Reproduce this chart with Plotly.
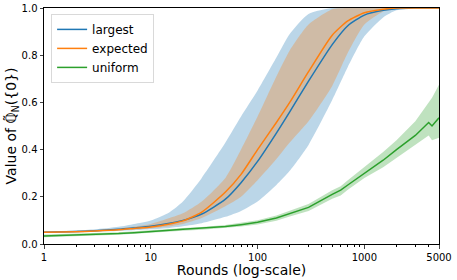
import plotly.graph_objects as go

# ---- data ----
rounds = [1, 2, 3, 5, 7, 10, 15, 20, 30, 50, 70, 100, 150, 200, 300, 500, 700, 1000, 1500, 2000, 3000, 5000]

largest_mid = [0.050, 0.053, 0.056, 0.062, 0.068, 0.075, 0.088, 0.100, 0.127, 0.19, 0.26, 0.35, 0.47, 0.56, 0.69, 0.845, 0.925, 0.97, 0.99, 0.997, 1.0, 1.0]
largest_hi = [0.053, 0.057, 0.062, 0.073, 0.085, 0.100, 0.135, 0.18, 0.28, 0.43, 0.54, 0.65, 0.79, 0.89, 0.975, 1.0, 1.0, 1.0, 1.0, 1.0, 1.0, 1.0]
largest_lo = [0.047, 0.050, 0.052, 0.055, 0.058, 0.062, 0.068, 0.075, 0.088, 0.115, 0.14, 0.18, 0.25, 0.31, 0.42, 0.61, 0.75, 0.88, 0.96, 0.99, 1.0, 1.0]

expected_mid = [0.050, 0.052, 0.055, 0.060, 0.066, 0.072, 0.085, 0.098, 0.135, 0.22, 0.295, 0.40, 0.515, 0.60, 0.73, 0.885, 0.945, 0.98, 0.995, 1.0, 1.0, 1.0]
expected_hi = [0.052, 0.055, 0.059, 0.066, 0.074, 0.085, 0.11, 0.13, 0.18, 0.28, 0.40, 0.54, 0.71, 0.82, 0.93, 0.995, 1.0, 1.0, 1.0, 1.0, 1.0, 1.0]
expected_lo = [0.048, 0.051, 0.053, 0.058, 0.062, 0.066, 0.075, 0.085, 0.11, 0.16, 0.20, 0.27, 0.36, 0.43, 0.52, 0.67, 0.81, 0.93, 0.985, 1.0, 1.0, 1.0]

uniform_rounds = [1, 2, 3, 5, 7, 10, 15, 20, 30, 50, 70, 100, 150, 200, 300, 500, 600, 700, 1000, 1500, 2000, 3000, 4000, 4300, 5000]
uniform_mid = [0.034, 0.037, 0.040, 0.044, 0.048, 0.054, 0.058, 0.062, 0.066, 0.074, 0.082, 0.092, 0.11, 0.128, 0.155, 0.21, 0.228, 0.25, 0.30, 0.355, 0.40, 0.46, 0.515, 0.50, 0.535]
uniform_hi = [0.040, 0.043, 0.046, 0.050, 0.054, 0.060, 0.064, 0.068, 0.072, 0.081, 0.090, 0.101, 0.121, 0.140, 0.170, 0.228, 0.245, 0.27, 0.325, 0.39, 0.44, 0.52, 0.60, 0.62, 0.675]
uniform_lo = [0.029, 0.032, 0.035, 0.039, 0.043, 0.048, 0.052, 0.056, 0.060, 0.067, 0.074, 0.083, 0.099, 0.116, 0.140, 0.192, 0.205, 0.23, 0.28, 0.325, 0.365, 0.42, 0.46, 0.44, 0.45]

x_ticks = [1, 10, 100, 1000, 5000]
x_tick_text = ["1", "10", "100", "1000", "5000"]
y_ticks = [0.0, 0.2, 0.4, 0.6, 0.8, 1.0]

colors = {"largest": "#1f77b4", "expected": "#ff7f0e", "uniform": "#2ca02c"}
bands = {"largest": "rgba(31,119,180,0.3)", "expected": "rgba(255,127,14,0.3)", "uniform": "rgba(44,160,44,0.3)"}

fig = go.Figure()

def add_band(x, lo, hi, name, shape):
    fig.add_trace(go.Scatter(x=x, y=hi, mode="lines", line=dict(width=0, shape=shape, smoothing=0.6),
                             showlegend=False, hoverinfo="skip"))
    fig.add_trace(go.Scatter(x=x, y=lo, mode="lines", line=dict(width=0, shape=shape, smoothing=0.6),
                             fill="tonexty", fillcolor=bands[name], showlegend=False, hoverinfo="skip"))

add_band(rounds, largest_lo, largest_hi, "largest", "spline")
add_band(rounds, expected_lo, expected_hi, "expected", "spline")
add_band(uniform_rounds, uniform_lo, uniform_hi, "uniform", "linear")

fig.add_trace(go.Scatter(x=rounds, y=largest_mid, mode="lines", name="largest",
                         line=dict(color=colors["largest"], width=1.5, shape="spline", smoothing=0.6)))
fig.add_trace(go.Scatter(x=rounds, y=expected_mid, mode="lines", name="expected",
                         line=dict(color=colors["expected"], width=1.5, shape="spline", smoothing=0.6)))
fig.add_trace(go.Scatter(x=uniform_rounds, y=uniform_mid, mode="lines", name="uniform",
                         line=dict(color=colors["uniform"], width=1.5)))

minor_x = [m * 10 ** e for e in range(0, 4) for m in range(2, 10) if m * 10 ** e < 5000]

fig.update_layout(
    width=457, height=280,
    margin=dict(l=44, r=18, t=8, b=36),
    paper_bgcolor="white", plot_bgcolor="white",
    font=dict(family="DejaVu Sans", color="black", size=10),
    legend=dict(x=0.018, y=0.975, xanchor="left", yanchor="top", traceorder="normal",
                bgcolor="rgba(255,255,255,0.8)", bordercolor="#d9d9d9", borderwidth=1,
                font=dict(size=12), itemwidth=30, tracegroupgap=0),
)
fig.update_xaxes(
    type="log", range=[0, 3.69897], automargin=False,
    tickvals=x_ticks, ticktext=x_tick_text, ticks="outside", ticklen=3.5,
    tickfont=dict(size=10),
    showline=True, linecolor="black", linewidth=1, mirror=True, showgrid=False, zeroline=False,
    minor=dict(tickvals=minor_x, ticks="outside", ticklen=2, tickcolor="black", showgrid=False),
    title=dict(text="Rounds (log-scale)", font=dict(size=14), standoff=1),
)
fig.update_yaxes(
    range=[0, 1], tickvals=y_ticks, tickformat=".1f", ticks="outside", ticklen=3.5,
    tickfont=dict(size=10), automargin=False,
    showline=True, linecolor="black", linewidth=1, mirror=True, showgrid=False, zeroline=False,
    title=dict(text="Value of ℚ̃<sub>N</sub>({0})", font=dict(size=14), standoff=1),
)

fig.write_html("out.html", config={"displayModeBar": False},
               post_script="document.body.style.margin='0';document.body.style.overflow='hidden';")
